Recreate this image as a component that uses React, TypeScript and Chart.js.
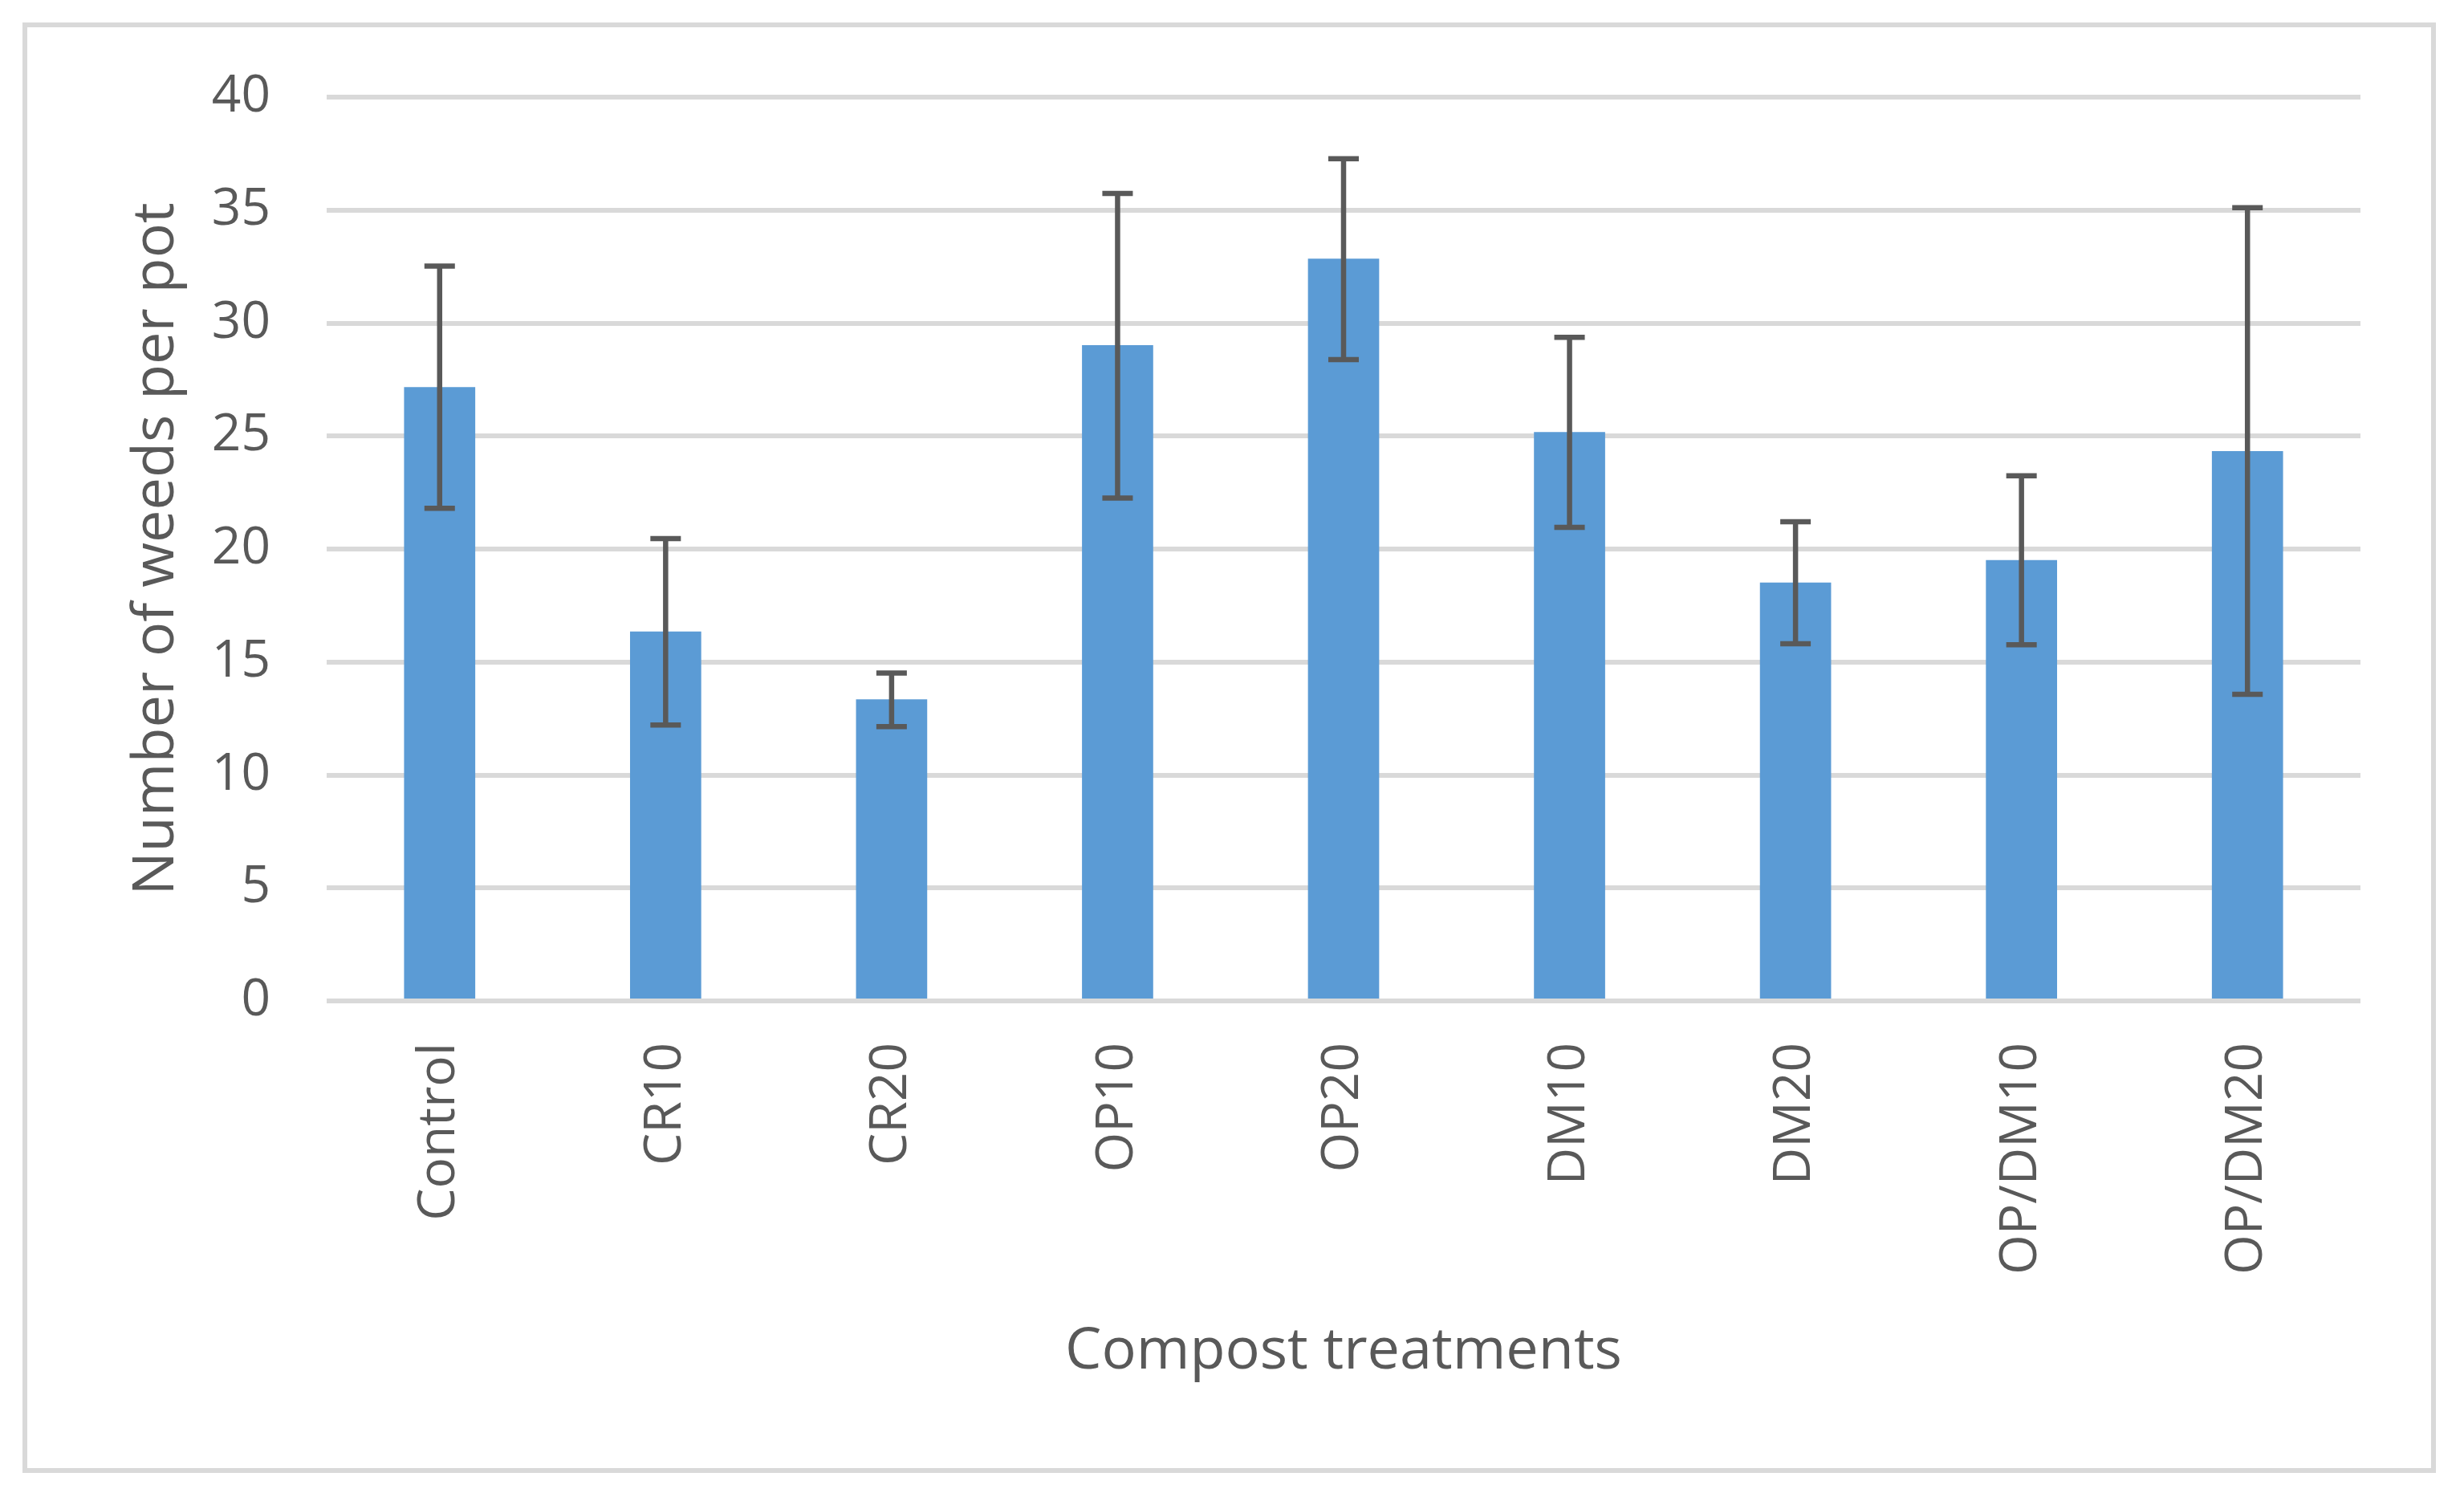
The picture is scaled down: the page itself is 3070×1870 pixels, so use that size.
import React, { useEffect, useRef } from "react";
import { Chart, registerables } from "chart.js";

Chart.register(...registerables);

const categories = ["Control", "CR10", "CR20", "OP10", "OP20", "DM10", "DM20", "OP/DM10", "OP/DM20"];
const meanWeeds = [27.17, 16.35, 13.35, 29.02, 32.85, 25.18, 18.52, 19.51, 24.33];
const errUpper = [32.52, 20.46, 14.51, 35.74, 37.27, 29.37, 21.21, 23.24, 35.11];
const errLower = [21.8, 12.21, 12.14, 22.26, 28.38, 20.96, 15.81, 15.76, 13.57];
const yTicks = [0, 5, 10, 15, 20, 25, 30, 35, 40];

const TEXT = "#595959";
const FONT = "'Open Sans', sans-serif";

const errorBarPlugin = {
  id: "errorBars",
  afterDatasetsDraw(chart: any) {
    const ctx = chart.ctx;
    const meta = chart.getDatasetMeta(0);
    const y = chart.scales.y;
    ctx.save();
    ctx.strokeStyle = "#595959";
    ctx.lineWidth = 6.5;
    ctx.lineCap = "butt";
    meta.data.forEach((bar: any, i: number) => {
      const x = bar.x;
      const yt = y.getPixelForValue(errUpper[i]);
      const yb = y.getPixelForValue(errLower[i]);
      const half = 19;
      ctx.beginPath();
      ctx.moveTo(x, yt);
      ctx.lineTo(x, yb);
      ctx.moveTo(x - half, yt);
      ctx.lineTo(x + half, yt);
      ctx.moveTo(x - half, yb);
      ctx.lineTo(x + half, yb);
      ctx.stroke();
    });
    ctx.restore();
  },
};

const borderPlugin = {
  id: "outerBorder",
  beforeDraw(chart: any) {
    const ctx = chart.ctx;
    ctx.save();
    ctx.fillStyle = "#ffffff";
    ctx.fillRect(0, 0, chart.width, chart.height);
    ctx.strokeStyle = "#d9d9d9";
    ctx.lineWidth = 6;
    ctx.strokeRect(31, 31, 3001, 1801);
    ctx.restore();
  },
};

export default function App() {
  const canvasRef = useRef<HTMLCanvasElement | null>(null);

  useEffect(() => {
    const canvas = canvasRef.current;
    if (!canvas) return;
    const chart = new Chart(canvas, {
      type: "bar",
      data: {
        labels: categories,
        datasets: [
          {
            data: meanWeeds,
            backgroundColor: "#5b9bd5",
            borderWidth: 0,
            barPercentage: 0.315,
            categoryPercentage: 1,
          },
        ],
      },
      options: {
        animation: false,
        responsive: false,
        devicePixelRatio: 1,
        layout: { padding: { top: 121, right: 129, bottom: 142, left: 152 } },
        plugins: {
          legend: { display: false },
          tooltip: { enabled: false },
          title: { display: false },
        },
        scales: {
          x: {
            grid: { display: false, drawTicks: false },
            border: { display: false },
            ticks: {
              color: TEXT,
              font: { family: FONT, size: 64 },
              minRotation: 90,
              maxRotation: 90,
              padding: 52,
              autoSkip: false,
            },
            title: {
              display: true,
              text: "Compost treatments",
              color: TEXT,
              font: { family: FONT, size: 72 },
              padding: 0,
            },
            afterFit(scale: any) {
              scale.height = 481;
            },
          },
          y: {
            min: 0,
            max: 40,
            afterBuildTicks(scale: any) {
              scale.ticks = yTicks.map((v) => ({ value: v }));
            },
            grid: { color: "#d9d9d9", lineWidth: 6, drawTicks: false },
            border: { display: false },
            ticks: {
              color: TEXT,
              font: { family: FONT, size: 64 },
              padding: 70,
            },
            title: {
              display: true,
              text: "Number of weeds per pot",
              color: TEXT,
              font: { family: FONT, size: 72 },
              padding: 0,
            },
            afterFit(scale: any) {
              scale.width = 255;
            },
          },
        },
      },
      plugins: [borderPlugin, errorBarPlugin],
    });
    return () => chart.destroy();
  }, []);

  return (
    <div style={{ position: "fixed", left: 0, top: 0, width: 3070, height: 1870, background: "#fff" }}>
      <canvas ref={canvasRef} width={3070} height={1870} style={{ width: 3070, height: 1870, display: "block" }} />
    </div>
  );
}
